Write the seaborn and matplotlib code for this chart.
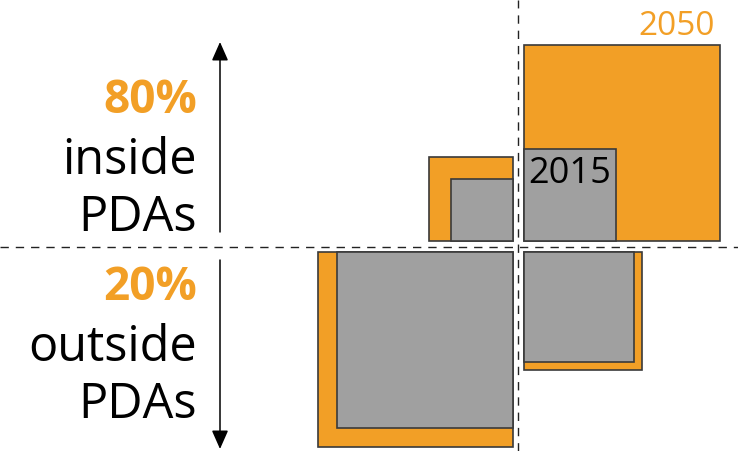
import matplotlib
matplotlib.use("Agg")
import matplotlib.pyplot as plt
from matplotlib.patches import Rectangle
import seaborn as sns

# Square side lengths (pixels) per quadrant, 2015 vs 2050
quadrants = ["upper left", "upper right", "lower left", "lower right"]
side_2015 = [62, 92, 176, 110]
side_2050 = [84, 196, 195, 118]

share_labels = ["80%", "20%"]
place_labels = ["inside\nPDAs", "outside\nPDAs"]

ORANGE = "#F29F26"
GRAY = "#A0A0A0"
EDGE = "#3A3A3A"

sns.set_theme(style="white")
plt.rcParams["font.family"] = ["Open Sans", "DejaVu Sans"]

W, H = 738, 451
fig = plt.figure(figsize=(W / 100, H / 100), dpi=100)
ax = fig.add_axes([0, 0, 1, 1])
ax.set_xlim(0, W)
ax.set_ylim(H, 0)
ax.axis("off")

cx, cy, gap = 518.3, 246.6, 5.3

# dashed cross
ax.axhline(cy, color="#222222", lw=1.0, ls=(0, (6, 5)), zorder=1)
ax.axvline(cx, color="#222222", lw=1.0, ls=(0, (6, 5)), zorder=1)

directions = {
    "upper left": (-1, -1),
    "upper right": (1, -1),
    "lower left": (-1, 1),
    "lower right": (1, 1),
}


def corner(side, sx, sy):
    x0 = cx + gap if sx > 0 else cx - gap - side
    y0 = cy + gap if sy > 0 else cy - gap - side
    return x0, y0


for quad, s15, s50 in zip(quadrants, side_2015, side_2050):
    sx, sy = directions[quad]
    ax.add_patch(Rectangle(corner(s50, sx, sy), s50, s50, facecolor=ORANGE,
                           edgecolor=EDGE, lw=1.2, zorder=2))
    ax.add_patch(Rectangle(corner(s15, sx, sy), s15, s15, facecolor=GRAY,
                           edgecolor=EDGE, lw=1.2, zorder=3))

# year labels
ur = quadrants.index("upper right")
x50, y50 = corner(side_2050[ur], 1, -1)
ax.text(x50 + side_2050[ur] - 5, y50 - 10, "2050", color=ORANGE,
        fontsize=24, ha="right", va="baseline", zorder=4)
x15, y15 = corner(side_2015[ur], 1, -1)
ax.text(x15 + 5, y15 + 34, "2015", color="black",
        fontsize=26, ha="left", va="baseline", zorder=4)

# left-hand labels
label_x = 197
for share, place, base in zip(share_labels, place_labels, [113, 300]):
    ax.text(label_x, base, share, color=ORANGE, fontsize=33,
            fontweight="bold", ha="right", va="baseline")
    first, second = place.split("\n")
    ax.text(label_x, base + 61, first, color="black", fontsize=35,
            ha="right", va="baseline")
    ax.text(label_x, base + 118, second, color="black", fontsize=35,
            ha="right", va="baseline")

# arrows
arrow_kw = dict(arrowstyle="-|>,head_length=0.95,head_width=0.42",
                color="black", lw=1.1, shrinkA=0, shrinkB=0)
ax.annotate("", xy=(220, 42), xytext=(220, 232), arrowprops=arrow_kw)
ax.annotate("", xy=(220, 449), xytext=(220, 260), arrowprops=arrow_kw)

fig.savefig("out.png", dpi=100)
